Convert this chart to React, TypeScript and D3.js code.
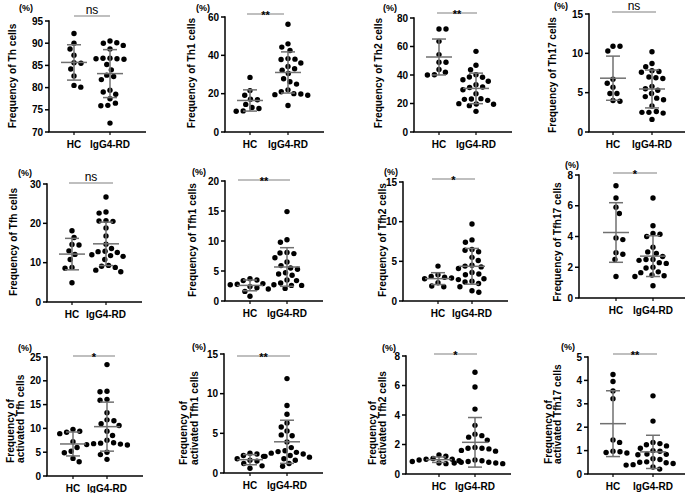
import React from "react";
import * as d3 from "d3";

const FONT = "'Liberation Sans', Arial, Helvetica, sans-serif";
const groups = ["HC", "IgG4-RD"];

// ---- data (percent) ----
const thHC = [92.2, 90.0, 88.7, 87.3, 85.5, 85.6, 84.2, 82.6, 80.5, 80.1];
const thRD = [90.5, 90.1, 90.0, 89.5, 88.7, 86.6, 86.6, 86.5, 86.4, 86.5, 85.2, 84.0, 82.8, 82.5, 81.8, 79.4, 79.0, 78.5, 77.5, 76.5, 75.9, 76.0, 72.0];
const th1HC = [28.5, 21.6, 19.2, 17.1, 16.8, 14.4, 12.8, 12.3, 11.0, 10.8];
const th1RD = [56.2, 46.0, 44.3, 42.5, 38.3, 38.0, 37.8, 36.0, 34.2, 33.0, 32.2, 30.5, 27.8, 26.2, 25.0, 22.0, 21.0, 20.0, 19.8, 19.5, 19.2, 13.8];
const th2HC = [72.3, 72.3, 63.6, 54.3, 48.9, 48.9, 43.9, 41.9, 40.2, 40.0];
const th2RD = [56.6, 46.8, 43.7, 40.2, 38.6, 38.4, 36.7, 35.6, 33.2, 31.6, 31.2, 29.7, 26.9, 23.4, 23.2, 22.9, 22.2, 19.9, 19.7, 19.5, 18.5, 14.5];
const th17HC = [10.9, 10.9, 10.3, 6.7, 6.2, 5.7, 4.9, 4.9, 4.0, 3.9];
const th17RD = [10.2, 8.7, 8.3, 7.8, 7.7, 7.6, 7.0, 6.9, 6.8, 5.8, 5.5, 5.3, 4.9, 4.5, 4.3, 4.1, 3.3, 2.6, 2.5, 2.5, 2.4, 1.6];
const tfhHC = [18.1, 16.4, 14.6, 14.5, 13.0, 12.1, 10.8, 8.8, 8.6, 4.9];
const tfhRD = [26.7, 22.9, 22.6, 20.7, 20.6, 20.5, 18.8, 16.8, 14.7, 13.6, 12.9, 12.8, 12.6, 12.0, 11.8, 11.6, 10.8, 9.3, 9.1, 8.8, 8.1, 7.7];
const tfh1HC = [3.7, 3.5, 3.4, 2.9, 2.8, 2.7, 2.4, 2.2, 1.6, 0.8];
const tfh1RD = [14.9, 10.2, 9.8, 8.1, 8.0, 7.9, 7.2, 6.5, 5.9, 5.5, 5.3, 4.7, 4.5, 4.3, 3.5, 3.4, 3.0, 2.7, 2.6, 2.6, 2.1, 2.0];
const tfh2HC = [4.4, 3.3, 3.1, 3.0, 2.9, 2.8, 2.7, 2.3, 1.9, 1.8];
const tfh2RD = [9.7, 7.7, 7.4, 6.5, 6.4, 6.2, 5.5, 5.1, 4.5, 4.4, 4.3, 4.1, 3.6, 3.4, 3.3, 2.8, 2.5, 2.4, 2.2, 1.8, 1.3, 1.1];
const tfh17HC = [7.3, 6.5, 5.9, 5.5, 3.9, 3.8, 2.95, 2.85, 2.5, 1.4];
const tfh17RD = [6.5, 4.7, 4.2, 4.15, 4.0, 3.3, 3.0, 2.9, 2.7, 2.5, 2.5, 2.45, 2.3, 2.25, 2.0, 1.95, 1.7, 1.65, 1.5, 1.45, 1.4, 0.8];
const aTfhHC = [9.8, 9.4, 9.2, 8.9, 7.2, 6.0, 5.2, 4.9, 3.7, 3.0];
const aTfhRD = [23.4, 17.8, 17.7, 16.1, 15.9, 13.3, 11.8, 11.6, 11.0, 10.6, 9.4, 8.5, 7.5, 7.0, 6.9, 6.8, 6.7, 6.6, 6.5, 5.0, 4.5, 3.5];
const aTfh1HC = [2.5, 2.4, 2.2, 2.1, 1.8, 1.6, 1.5, 1.2, 0.9, 0.6];
const aTfh1RD = [11.9, 8.5, 7.4, 6.3, 5.8, 5.3, 4.8, 4.7, 3.9, 3.2, 2.8, 2.7, 2.6, 2.5, 2.4, 2.2, 2.1, 2.0, 1.8, 1.6, 1.2, 0.85];
const aTfh2HC = [1.3, 1.2, 1.05, 1.0, 1.0, 0.95, 0.9, 0.85, 0.75, 0.7];
const aTfh2RD = [6.9, 5.9, 4.4, 3.3, 2.7, 2.6, 2.5, 2.3, 1.8, 1.75, 1.75, 1.7, 1.6, 1.55, 0.95, 0.9, 0.85, 0.8, 0.8, 0.75, 0.75, 0.7];
const aTfh17HC = [4.25, 3.95, 3.55, 3.22, 1.45, 1.35, 0.97, 0.95, 0.92, 0.9];
const aTfh17RD = [3.34, 2.26, 1.35, 1.3, 1.25, 1.2, 1.1, 1.0, 0.97, 0.85, 0.84, 0.82, 0.65, 0.62, 0.52, 0.5, 0.48, 0.45, 0.4, 0.38, 0.3, 0.21];

const hcSeries = [thHC, th1HC, th2HC, th17HC, tfhHC, tfh1HC, tfh2HC, tfh17HC, aTfhHC, aTfh1HC, aTfh2HC, aTfh17HC];
const rdSeries = [thRD, th1RD, th2RD, th17RD, tfhRD, tfh1RD, tfh2RD, tfh17RD, aTfhRD, aTfh1RD, aTfh2RD, aTfh17RD];

const yLabels: string[][] = [
  ["Frequency of Th cells"], ["Frequency of Th1 cells"], ["Frequency of Th2 cells"], ["Frequency of Th17 cells"],
  ["Frequency of Tfh cells"], ["Frequency of Tfh1 cells"], ["Frequency of Tfh2 cells"], ["Frequency of Tfh17 cells"],
  ["Frequency of", "activated Tfh cells"], ["Frequency of", "activated Tfh1 cells"],
  ["Frequency of", "activated Tfh2 cells"], ["Frequency of", "activated Tfh17 cells"],
];
const significance = ["ns", "**", "**", "ns", "ns", "**", "*", "*", "*", "**", "*", "**"];
const tickValues: number[][] = [
  [70, 75, 80, 85, 90, 95], [0, 20, 40, 60], [0, 20, 40, 60, 80], [0, 5, 10, 15],
  [0, 10, 20, 30], [0, 5, 10, 15, 20], [0, 5, 10, 15], [0, 2, 4, 6, 8],
  [0, 5, 10, 15, 20, 25], [0, 5, 10, 15], [0, 2, 4, 6, 8], [0, 1, 2, 3, 4, 5],
];

// ---- layout (pixels) ----
const layout = [
  { ax: 49, hc: 74, rd: 110, top: 21, bottom: 132, sx1: 74, sx2: 110, sy: 16, px: 26, py: 8, lx: [12], ly: 76 },
  { ax: 225, hc: 250, rd: 288, top: 17, bottom: 132, sx1: 247, sx2: 284, sy: 14, px: 203, py: 8, lx: [191], ly: 73 },
  { ax: 414, hc: 439, rd: 476, top: 18, bottom: 132, sx1: 437, sx2: 477, sy: 13, px: 390, py: 8, lx: [378], ly: 73 },
  { ax: 589, hc: 613, rd: 652, top: 14, bottom: 132, sx1: 612, sx2: 656, sy: 12, px: 561, py: 6, lx: [552], ly: 75 },
  { ax: 47, hc: 72, rd: 106, top: 184, bottom: 302, sx1: 69, sx2: 113, sy: 183, px: 25, py: 173, lx: [13], ly: 242 },
  { ax: 225, hc: 250, rd: 287, top: 181, bottom: 301, sx1: 238, sx2: 290, sy: 180, px: 199, py: 172, lx: [192], ly: 240 },
  { ax: 403, hc: 438, rd: 472, top: 182, bottom: 301, sx1: 432, sx2: 475, sy: 179, px: 391, py: 172, lx: [382], ly: 240 },
  { ax: 579, hc: 616, rd: 653, top: 175, bottom: 298, sx1: 613, sx2: 657, sy: 173, px: 572, py: 165, lx: [557], ly: 242 },
  { ax: 47, hc: 73, rd: 107, top: 357, bottom: 476, sx1: 73, sx2: 115, sy: 356, px: 25, py: 348, lx: [10, 20], ly: 463 },
  { ax: 224, hc: 250, rd: 287, top: 354, bottom: 473, sx1: 237, sx2: 290, sy: 356, px: 199, py: 347, lx: [183, 194], ly: 465 },
  { ax: 406, hc: 439, rd: 475, top: 356, bottom: 474, sx1: 434, sx2: 477, sy: 354, px: 389, py: 348, lx: [372, 382], ly: 465 },
  { ax: 588, hc: 613, rd: 653, top: 357, bottom: 474, sx1: 613, sx2: 657, sy: 354, px: 568, py: 347, lx: [548, 557], ly: 464 },
];

const R = 2.7;
const D = 7;

function swarm(vals: number[], y: (v: number) => number): number[] {
  const order = vals.map((_, i) => i).sort((a, b) => vals[b] - vals[a]);
  const placed: { x: number; y: number }[] = [];
  const xs = new Array(vals.length).fill(0);
  let flip = 1;
  for (const i of order) {
    const py = y(vals[i]);
    const cands = [0];
    for (const p of placed) {
      const dy = Math.abs(p.y - py);
      if (dy < D) {
        const dx = Math.sqrt(D * D - dy * dy);
        cands.push(p.x + dx, p.x - dx);
      }
    }
    cands.sort((a, b) => Math.abs(a) - Math.abs(b) || flip * (a - b));
    let chosen = 0;
    for (const c of cands) {
      if (placed.every((p) => (p.x - c) ** 2 + (p.y - py) ** 2 >= D * D - 0.01)) {
        chosen = c;
        break;
      }
    }
    flip = -flip;
    xs[i] = chosen;
    placed.push({ x: chosen, y: py });
  }
  return xs;
}

function Panel({ idx }: { idx: number }) {
  const L = layout[idx];
  const ticks = tickValues[idx];
  const y = d3.scaleLinear().domain([ticks[0], ticks[ticks.length - 1]]).range([L.bottom, L.top]);
  const series = [hcSeries[idx], rdSeries[idx]];
  const centers = [L.hc, L.rd];
  const xEnd = L.rd + 36;
  const sig = significance[idx];
  const lbl = yLabels[idx];
  return (
    <g>
      <line x1={L.ax} x2={L.ax} y1={L.top - 0.75} y2={L.bottom} stroke="#000" strokeWidth={1.5} />
      <line x1={L.ax - 0.75} x2={xEnd} y1={L.bottom} y2={L.bottom} stroke="#000" strokeWidth={1.5} />
      {ticks.map((t) => (
        <g key={t}>
          <line x1={L.ax - 4} x2={L.ax} y1={y(t)} y2={y(t)} stroke="#000" strokeWidth={1.5} />
          <text x={L.ax - 6} y={y(t)} dy="0.35em" textAnchor="end" fontSize={10} fontWeight="bold" fontFamily={FONT} fill="#000">
            {t}
          </text>
        </g>
      ))}
      {groups.map((g, gi) => (
        <g key={g}>
          <line x1={centers[gi]} x2={centers[gi]} y1={L.bottom} y2={L.bottom + 3} stroke="#000" strokeWidth={1.2} />
          <text x={centers[gi]} y={L.bottom + 12} dy="0.35em" textAnchor="middle" fontSize={10} fontWeight="bold" fontFamily={FONT} fill="#000">
            {g}
          </text>
        </g>
      ))}
      {series.map((vals, gi) => {
        const xs = swarm(vals, y);
        return vals.map((v, i) => <circle key={gi + "-" + i} cx={centers[gi] + xs[i]} cy={y(v)} r={R} fill="#000" />);
      })}
      {series.map((vals, gi) => {
        const m = d3.mean(vals) as number;
        const s = d3.deviation(vals) as number;
        const c = centers[gi];
        return (
          <g key={"e" + gi} stroke="#707070" strokeWidth={1.5}>
            <line x1={c} x2={c} y1={y(m + s)} y2={y(m - s)} />
            <line x1={c - 7} x2={c + 7} y1={y(m + s)} y2={y(m + s)} />
            <line x1={c - 7} x2={c + 7} y1={y(m - s)} y2={y(m - s)} />
            <line x1={c - 13} x2={c + 13} y1={y(m)} y2={y(m)} />
          </g>
        );
      })}
      <line x1={L.sx1} x2={L.sx2} y1={L.sy} y2={L.sy} stroke="#808080" strokeWidth={1.2} />
      {sig === "ns" ? (
        <text x={(L.sx1 + L.sx2) / 2} y={L.sy - 2} textAnchor="middle" fontSize={12} fontFamily={FONT} fill="#000">
          {sig}
        </text>
      ) : (
        <text x={(L.sx1 + L.sx2) / 2} y={L.sy + 5} textAnchor="middle" fontSize={11} fontWeight="bold" fontFamily={FONT} fill="#000">
          {sig}
        </text>
      )}
      <text x={L.px} y={L.py} dy="0.35em" textAnchor="middle" fontSize={9} fontWeight="bold" fontFamily={FONT} fill="#000">
        (%)
      </text>
      {lbl.length === 1 ? (
        <text transform={`translate(${L.lx[0]},${L.ly}) rotate(-90)`} dy="0.35em" textAnchor="middle" fontSize={10.2} fontWeight="bold" fontFamily={FONT} fill="#000">
          {lbl[0]}
        </text>
      ) : (
        lbl.map((t, li) => (
          <text key={li} transform={`translate(${L.lx[li]},${L.ly}) rotate(-90)`} dy="0.35em" textAnchor="start" fontSize={10.2} fontWeight="bold" fontFamily={FONT} fill="#000">
            {t}
          </text>
        ))
      )}
    </g>
  );
}

export default function App() {
  return (
    <svg width={685} height={493} style={{ position: "absolute", left: 0, top: 0, background: "#fff" }}>
      <rect width={685} height={493} fill="#fff" />
      {layout.map((_, i) => (
        <Panel key={i} idx={i} />
      ))}
    </svg>
  );
}
